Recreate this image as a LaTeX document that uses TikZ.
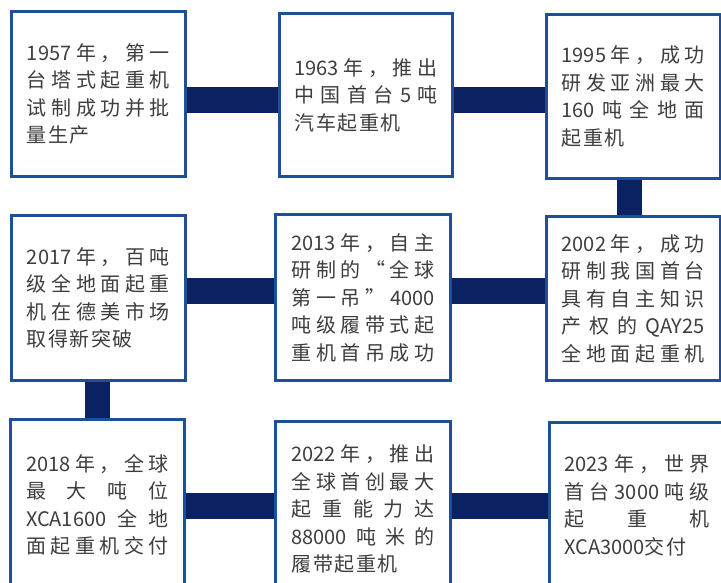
\documentclass[tikz,border=0pt]{standalone}
\usepackage{fontspec}
\newfontfamily\cjk{Noto Sans CJK SC}
\definecolor{boxblue}{HTML}{1F4F97}
\definecolor{barnavy}{HTML}{0B2262}
\definecolor{txtgray}{HTML}{3E3E3E}
\newcommand\J[1]{\leavevmode\hbox to \hsize{#1}}
\newcommand\g{\hspace{1.5pt}}
\begin{document}
\begin{tikzpicture}[x=1pt,y=-1pt,
  evt/.style={draw=boxblue, line width=3pt, fill=white, rectangle, inner sep=0pt,
    text width=143pt, align=left, text=txtgray,
    font=\cjk\fontsize{20pt}{27.5pt}\selectfont},
  bar/.style={line width=26pt, draw=barnavy},
  vbar/.style={line width=25pt, draw=barnavy}]
\path[use as bounding box] (0,0) rectangle (721,582);
\clip (0,0) rectangle (721,582);
\fill[white] (0,0) rectangle (721,582);

% row 1
\node[evt, minimum width=174pt, minimum height=165pt] (b1) at (98.5,94)
 {\J{1957\hfill 年\hfill ，\hfill 第\hfill 一}\\
  \J{台\hfill 塔\hfill 式\hfill 起\hfill 重\hfill 机}\\
  \J{试\hfill 制\hfill 成\hfill 功\hfill 并\hfill 批}\\
  量\g 生\g 产};
\node[evt, minimum width=173pt, minimum height=163pt] (b2) at (366,95)
 {\J{1963\hfill 年\hfill ，\hfill 推\hfill 出}\\
  \J{中\hfill 国\hfill 首\hfill 台\hfill 5\hfill 吨}\\
  汽\g 车\g 起\g 重\g 机};
\node[evt, minimum width=173.5pt, minimum height=164pt] (b3) at (633.25,96.5)
 {\J{1995\hfill 年\hfill ，\hfill 成\hfill 功}\\
  \J{研\hfill 发\hfill 亚\hfill 洲\hfill 最\hfill 大}\\
  \J{160\hfill 吨\hfill 全\hfill 地\hfill 面}\\
  起\g 重\g 机};

% row 2
\node[evt, minimum width=174pt, minimum height=165pt] (b4) at (98.5,298)
 {\J{2017\hfill 年\hfill ，\hfill 百\hfill 吨}\\
  \J{级\hfill 全\hfill 地\hfill 面\hfill 起\hfill 重}\\
  \J{机\hfill 在\hfill 德\hfill 美\hfill 市\hfill 场}\\
  取\g 得\g 新\g 突\g 破};
\node[evt, minimum width=175pt, minimum height=166pt] (b5) at (363,297.5)
 {\J{2013\hfill 年\hfill ，\hfill 自\hfill 主}\\
  \J{研\hfill 制\hfill 的\hfill “\hfill 全\hfill 球}\\
  \J{第\hfill 一\hfill 吊\hfill ”\hfill 4000}\\
  \J{吨\hfill 级\hfill 履\hfill 带\hfill 式\hfill 起}\\
  \J{重\hfill 机\hfill 首\hfill 吊\hfill 成\hfill 功}};
\node[evt, minimum width=173.5pt, minimum height=164pt] (b6) at (633.25,298.5)
 {\J{2002\hfill 年\hfill ，\hfill 成\hfill 功}\\
  \J{研\hfill 制\hfill 我\hfill 国\hfill 首\hfill 台}\\
  \J{具\hfill 有\hfill 自\hfill 主\hfill 知\hfill 识}\\
  \J{产\hfill 权\hfill 的\hfill QAY25}\\
  \J{全\hfill 地\hfill 面\hfill 起\hfill 重\hfill 机}};

% row 3
\node[evt, minimum width=174pt, minimum height=171pt] (b7) at (97.5,505)
 {\J{2018\hfill 年\hfill ，\hfill 全\hfill 球}\\
  \J{最\hfill 大\hfill 吨\hfill 位}\\
  \J{XCA1600\hfill 全\hfill 地}\\
  \J{面\hfill 起\hfill 重\hfill 机\hfill 交\hfill 付}};
\node[evt, minimum width=175pt, minimum height=175pt] (b8) at (363,509)
 {\J{2022\hfill 年\hfill ，\hfill 推\hfill 出}\\
  \J{全\hfill 球\hfill 首\hfill 创\hfill 最\hfill 大}\\
  \J{起\hfill 重\hfill 能\hfill 力\hfill 达}\\
  \J{88000\hfill 吨\hfill 米\hfill 的}\\
  履\g 带\g 起\g 重\g 机};
\node[evt, text width=145pt, minimum width=175pt, minimum height=166pt] (b9) at (637,505.5)
 {\J{2023\hfill 年\hfill ，\hfill 世\hfill 界}\\
  \J{首\hfill 台\hfill 3000\hfill 吨\hfill 级}\\
  \J{起\hfill 重\hfill 机}\\
  XCA3000交\g 付};

% connector guides
\coordinate (r1) at (0,100);
\coordinate (r2) at (0,291);
\coordinate (r3) at (0,505.5);
\coordinate (c1) at (629.5,0);
\coordinate (c2) at (97.5,0);

\draw[bar] (b1.east|-r1) -- (b2.west|-r1);
\draw[bar] (b2.east|-r1) -- (b3.west|-r1);
\draw[vbar] (b3.south-|c1) -- (b6.north-|c1);
\draw[bar] (b6.west|-r2) -- (b5.east|-r2);
\draw[bar] (b5.west|-r2) -- (b4.east|-r2);
\draw[vbar] (b4.south-|c2) -- (b7.north-|c2);
\draw[bar] (b7.east|-r3) -- (b8.west|-r3);
\draw[bar] (b8.east|-r3) -- (b9.west|-r3);
\end{tikzpicture}
\end{document}
